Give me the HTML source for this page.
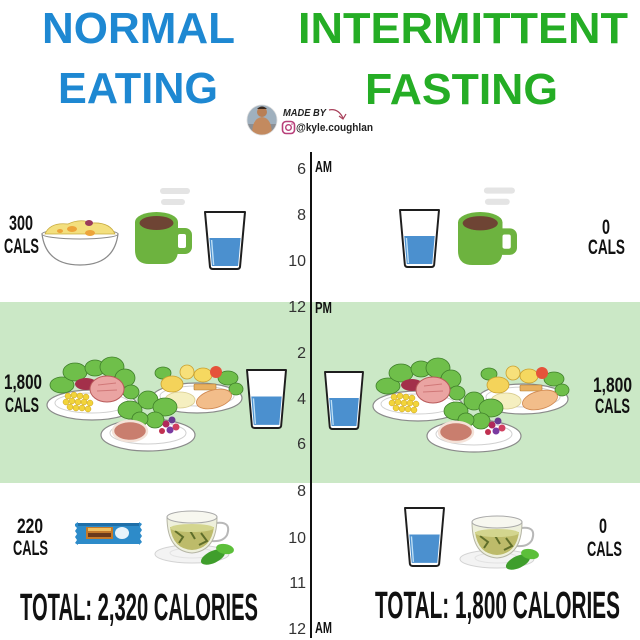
<!DOCTYPE html>
<html><head><meta charset="utf-8"><style>
html,body{margin:0;padding:0;background:#fff;}
svg{display:block;}
text{font-family:"Liberation Sans",Arial,sans-serif;}
</style></head><body>
<svg width="640" height="640" viewBox="0 0 640 640" xmlns="http://www.w3.org/2000/svg">
<defs>
  <g id="glass">
    <path d="M0,0 L40,0 L35,55 Q34.5,57 32,57 L8,57 Q5.5,57 5,55 Z" fill="#fff" stroke="#1e1e1e" stroke-width="2" stroke-linejoin="round"/>
    <path d="M4.4,26 L35.6,26 L33.1,54 L6.9,54 Z" fill="#4b90cf"/>
    <line x1="6.6" y1="28" x2="8.6" y2="53" stroke="#bfe0f5" stroke-width="1.4"/>
  </g>
  <g id="mug">
    <rect x="25" y="-24" width="30" height="6" rx="3" fill="#e4e4e4"/>
    <rect x="26" y="-13" width="24" height="6" rx="3" fill="#e4e4e4"/>
    <rect x="36" y="16" width="21" height="26" rx="7" fill="#6db33f"/>
    <rect x="43" y="22" width="8" height="14" rx="2" fill="#fff"/>
    <path d="M0,10 L0,38 Q0,52 14,52 L29,52 Q43,52 43,38 L43,10 Z" fill="#6db33f"/>
    <ellipse cx="21.5" cy="10" rx="21.5" ry="10" fill="#6db33f"/>
    <ellipse cx="21.5" cy="11" rx="17" ry="7" fill="#6e4434"/>
  </g>
  <g id="tea">
    <ellipse cx="37" cy="47" rx="37" ry="9" fill="#f3f3f3" stroke="#d3d3d3" stroke-width="1"/>
    <ellipse cx="37" cy="46" rx="22" ry="5" fill="none" stroke="#e2e2e2"/>
    <path d="M61,16 Q77,14 72,28 Q68,35 57,34" fill="none" stroke="#b8b8b8" stroke-width="2"/>
    <path d="M12,10 Q12,44 37,46 Q62,44 62,10 Z" fill="#eef0dc" stroke="#b5b5a5" stroke-width="1"/>
    <path d="M15,20 Q18,42 37,43 Q56,42 59,20 Z" fill="#bdbb6a"/>
    <path d="M20,24 L28,30 L24,36 M34,22 L40,32 M46,26 L52,34 L44,38" stroke="#5f6e2a" stroke-width="2" fill="none"/>
    <ellipse cx="37" cy="10" rx="25" ry="6" fill="#f7f7ef" stroke="#a9a9a9" stroke-width="1"/>
    <ellipse cx="37" cy="21" rx="22" ry="4" fill="#d3d58e"/>
    <ellipse cx="58" cy="50" rx="13" ry="6" fill="#3f9e2c" transform="rotate(-25 58 50)"/>
    <ellipse cx="70" cy="42" rx="9" ry="5" fill="#5cbf3a" transform="rotate(10 70 42)"/>
  </g>
  <g id="meal">
    <!-- plate A -->
    <ellipse cx="92" cy="405" rx="45" ry="15" fill="#fff" stroke="#8a8a8a" stroke-width="1.2"/>
    <ellipse cx="92" cy="403" rx="37" ry="10" fill="none" stroke="#d0d0d0"/>
    <g fill="#6fbf4a" stroke="#3f7f2a" stroke-width="0.8">
      <ellipse cx="62" cy="385" rx="12" ry="8"/>
      <ellipse cx="75" cy="372" rx="12" ry="9"/>
      <ellipse cx="95" cy="368" rx="10" ry="8"/>
      <ellipse cx="112" cy="367" rx="12" ry="10"/>
      <ellipse cx="125" cy="378" rx="10" ry="9"/>
      <ellipse cx="131" cy="392" rx="8" ry="7"/>
    </g>
    <ellipse cx="86" cy="384" rx="11" ry="6" fill="#a3304a"/>
    <ellipse cx="107" cy="389" rx="17" ry="13" fill="#eaa4a2" stroke="#b95a5a" stroke-width="1"/>
    <path d="M98,385 L116,383 M97,391 L117,390" stroke="#d07878" stroke-width="1"/>
    <g fill="#f2d43a" stroke="#c9a020" stroke-width="0.5">
      <circle cx="68" cy="396" r="3"/><circle cx="74" cy="395" r="3"/><circle cx="80" cy="396" r="3"/><circle cx="86" cy="397" r="3"/>
      <circle cx="66" cy="402" r="3"/><circle cx="72" cy="401" r="3"/><circle cx="78" cy="402" r="3"/><circle cx="84" cy="402" r="3"/><circle cx="90" cy="403" r="3"/>
      <circle cx="70" cy="407" r="3"/><circle cx="76" cy="408" r="3"/><circle cx="82" cy="408" r="3"/><circle cx="88" cy="409" r="3"/>
    </g>
    <!-- plate B -->
    <ellipse cx="197" cy="398" rx="45" ry="15" fill="#fff" stroke="#8a8a8a" stroke-width="1.2"/>
    <ellipse cx="197" cy="396" rx="37" ry="10" fill="none" stroke="#d0d0d0"/>
    <g fill="#6fbf4a" stroke="#3f7f2a" stroke-width="0.8">
      <ellipse cx="228" cy="378" rx="10" ry="7"/>
      <ellipse cx="236" cy="389" rx="7" ry="6"/>
      <ellipse cx="163" cy="373" rx="8" ry="6"/>
    </g>
    <ellipse cx="172" cy="384" rx="11" ry="8" fill="#f4d35a" stroke="#c9a030" stroke-width="0.8"/>
    <circle cx="187" cy="372" r="7" fill="#f7e07a" stroke="#c9a030" stroke-width="0.8"/>
    <ellipse cx="203" cy="375" rx="9" ry="7" fill="#f5d860" stroke="#c9a030" stroke-width="0.8"/>
    <circle cx="216" cy="372" r="6" fill="#e5533a"/>
    <rect x="194" y="384" width="22" height="6" rx="1" fill="#e8b060" stroke="#b07a30" stroke-width="0.6"/>
    <ellipse cx="180" cy="400" rx="15" ry="8" fill="#f5efc0" stroke="#d8cc90" stroke-width="0.8"/>
    <ellipse cx="214" cy="399" rx="18" ry="9" fill="#f2bd8a" stroke="#d08850" stroke-width="0.8" transform="rotate(-15 214 399)"/>
    <!-- plate C -->
    <ellipse cx="148" cy="435" rx="47" ry="16" fill="#fff" stroke="#8a8a8a" stroke-width="1.2"/>
    <ellipse cx="148" cy="433" rx="38" ry="11" fill="none" stroke="#d0d0d0"/>
    <g fill="#6fbf4a" stroke="#3f7f2a" stroke-width="0.8">
      <ellipse cx="130" cy="410" rx="12" ry="9"/>
      <ellipse cx="148" cy="400" rx="10" ry="9"/>
      <ellipse cx="165" cy="407" rx="12" ry="9"/>
      <ellipse cx="155" cy="420" rx="9" ry="8"/>
      <ellipse cx="140" cy="419" rx="8" ry="7"/>
    </g>
    <ellipse cx="130" cy="431" rx="17" ry="10" fill="#c97e6e" stroke="#f4e2d8" stroke-width="2.5"/>
    <g>
      <circle cx="166" cy="424" r="3.5" fill="#b0285a"/><circle cx="172" cy="420" r="3.5" fill="#6a3a90"/>
      <circle cx="176" cy="427" r="3.5" fill="#d04060"/><circle cx="170" cy="430" r="3.5" fill="#7a3aa0"/>
      <circle cx="162" cy="431" r="3" fill="#c03050"/>
    </g>
  </g>
</defs>

<rect x="0" y="0" width="640" height="640" fill="#fff"/>
<!-- green band -->
<rect x="0" y="302" width="640" height="181" fill="#cbe8c6"/>

<!-- headers -->
<g font-weight="bold" font-size="44">
  <text x="42" y="43" fill="#1e88d2" textLength="193" lengthAdjust="spacingAndGlyphs">NORMAL</text>
  <text x="58" y="103" fill="#1e88d2" textLength="160" lengthAdjust="spacingAndGlyphs">EATING</text>
  <text x="298" y="43" fill="#25ad25" textLength="330" lengthAdjust="spacingAndGlyphs">INTERMITTENT</text>
  <text x="365" y="104" fill="#25ad25" textLength="193" lengthAdjust="spacingAndGlyphs">FASTING</text>
</g>

<!-- credit -->
<defs><clipPath id="av"><circle cx="262" cy="120" r="15"/></clipPath></defs>
<g clip-path="url(#av)">
  <rect x="247" y="105" width="30" height="30" fill="#9fb0be"/>
  <rect x="247" y="124" width="30" height="11" fill="#8a8f95"/>
  <path d="M252,135 Q252,118 262,117 Q272,118 272,135 Z" fill="#c38a5f"/>
  <circle cx="262" cy="112" r="5" fill="#b97f55"/>
  <path d="M257,109 Q262,104 267,109" fill="#3a2a20"/>
</g>
<circle cx="262" cy="120" r="15" fill="none" stroke="#ddd" stroke-width="0.8"/>
<text x="283" y="116" font-size="10" font-weight="bold" font-style="italic" fill="#222" textLength="43" lengthAdjust="spacingAndGlyphs">MADE BY</text>
<path d="M329,110 Q338,108 343,118" fill="none" stroke="#a8405a" stroke-width="1.2"/>
<path d="M339,116 L343,119 L346,114" fill="none" stroke="#a8405a" stroke-width="1.2"/>
<rect x="282.5" y="121.5" width="12" height="12" rx="3.5" fill="none" stroke="#b8407a" stroke-width="1.6"/>
<circle cx="288.5" cy="127.5" r="2.8" fill="none" stroke="#b8407a" stroke-width="1.4"/>
<circle cx="292" cy="124" r="0.8" fill="#b8407a"/>
<text x="296" y="131" font-size="11" font-weight="bold" fill="#222" textLength="77" lengthAdjust="spacingAndGlyphs">@kyle.coughlan</text>

<!-- axis -->
<line x1="311" y1="152" x2="311" y2="638" stroke="#111" stroke-width="2"/>
<g font-size="16" fill="#333" text-anchor="end">
  <text x="306" y="174">6</text>
  <text x="306" y="220">8</text>
  <text x="306" y="266">10</text>
  <text x="306" y="312">12</text>
  <text x="306" y="358">2</text>
  <text x="306" y="404">4</text>
  <text x="306" y="449">6</text>
  <text x="306" y="496">8</text>
  <text x="306" y="543">10</text>
  <text x="306" y="588">11</text>
  <text x="306" y="634">12</text>
</g>
<g font-size="16" font-weight="bold" fill="#111">
  <text x="315" y="172" textLength="17" lengthAdjust="spacingAndGlyphs">AM</text>
  <text x="315" y="313" textLength="17" lengthAdjust="spacingAndGlyphs">PM</text>
  <text x="315" y="633" textLength="17" lengthAdjust="spacingAndGlyphs">AM</text>
</g>

<!-- calorie labels -->
<g font-size="21" font-weight="bold" fill="#111">
  <text x="9" y="230" textLength="24" lengthAdjust="spacingAndGlyphs">300</text>
  <text x="4" y="253" textLength="35" lengthAdjust="spacingAndGlyphs">CALS</text>
  <text x="602" y="234" textLength="8" lengthAdjust="spacingAndGlyphs">0</text>
  <text x="588" y="254" textLength="37" lengthAdjust="spacingAndGlyphs">CALS</text>
  <text x="4" y="389" textLength="38" lengthAdjust="spacingAndGlyphs">1,800</text>
  <text x="5" y="412" textLength="34" lengthAdjust="spacingAndGlyphs">CALS</text>
  <text x="593" y="392" textLength="39" lengthAdjust="spacingAndGlyphs">1,800</text>
  <text x="595" y="413" textLength="35" lengthAdjust="spacingAndGlyphs">CALS</text>
  <text x="17" y="533" textLength="26" lengthAdjust="spacingAndGlyphs">220</text>
  <text x="13" y="555" textLength="35" lengthAdjust="spacingAndGlyphs">CALS</text>
  <text x="599" y="533" textLength="8" lengthAdjust="spacingAndGlyphs">0</text>
  <text x="587" y="556" textLength="35" lengthAdjust="spacingAndGlyphs">CALS</text>
</g>
<g font-size="38" font-weight="bold" fill="#111">
  <text x="20" y="620" textLength="238" lengthAdjust="spacingAndGlyphs">TOTAL: 2,320 CALORIES</text>
  <text x="375" y="618" textLength="245" lengthAdjust="spacingAndGlyphs">TOTAL: 1,800 CALORIES</text>
</g>

<!-- bowl -->
<path d="M42,234 Q46,265 80,265 Q114,265 118,234 Z" fill="#fff" stroke="#8a8a8a" stroke-width="1.2"/>
<ellipse cx="80" cy="234" rx="38" ry="5" fill="#fff" stroke="#8a8a8a" stroke-width="1"/>
<path d="M45,234 Q50,222 68,224 Q80,218 92,223 Q110,222 115,234 Z" fill="#f3df7e" stroke="#c8ac40" stroke-width="0.8"/>
<ellipse cx="72" cy="229" rx="5" ry="3" fill="#eda43a"/>
<ellipse cx="90" cy="233" rx="5" ry="3" fill="#eda43a"/>
<ellipse cx="60" cy="231" rx="3" ry="2" fill="#eda43a"/>
<ellipse cx="89" cy="223" rx="4" ry="3" fill="#9a3a5a"/>

<!-- mugs -->
<use href="#mug" transform="translate(135,212)"/>
<use href="#mug" transform="translate(458,212) scale(1.035,1.02)"/>

<!-- glasses -->
<use href="#glass" transform="translate(205,212)"/>
<use href="#glass" transform="translate(400,210) scale(0.975,1)"/>
<use href="#glass" transform="translate(247,370) scale(0.975,1.017)"/>
<use href="#glass" transform="translate(325,372) scale(0.95,1)"/>
<use href="#glass" transform="translate(405,508) scale(0.975,1.017)"/>

<!-- meals -->
<use href="#meal"/>
<use href="#meal" transform="translate(326,1)"/>

<!-- protein bar -->
<path d="M75,524 L78,522 L78,545 L75,543 L77,540 L75,537 L77,534 L75,531 L77,528 L75,526 Z" fill="#2d8bc9"/>
<rect x="78" y="523" width="61" height="21" fill="#2d8bc9"/>
<path d="M139,522 L142,524 L140,527 L142,530 L140,533 L142,536 L140,539 L142,542 L139,545 Z" fill="#2d8bc9"/>
<rect x="78" y="523" width="61" height="3" fill="#1f6fa8"/>
<rect x="86" y="527" width="27" height="12" fill="#c47a2a"/>
<rect x="88" y="533" width="23" height="4" fill="#6b3a1a"/>
<rect x="88" y="528" width="23" height="3" fill="#f0c060"/>
<ellipse cx="122" cy="533" rx="7" ry="6" fill="#e8f4fb"/>

<!-- tea -->
<use href="#tea" transform="translate(155,507)"/>
<use href="#tea" transform="translate(460,512)"/>
</svg>
</body></html>
